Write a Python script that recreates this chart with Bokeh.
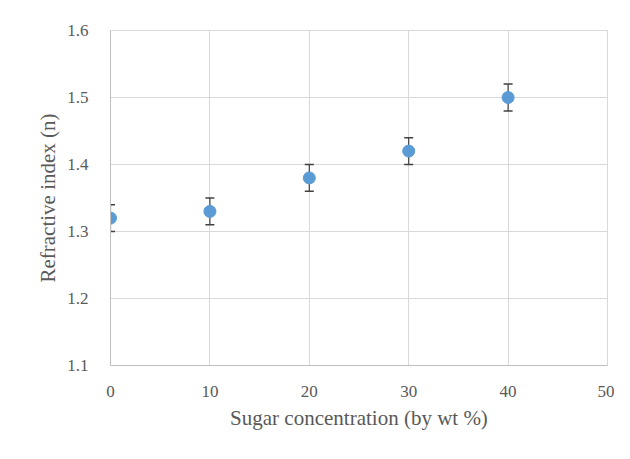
from bokeh.plotting import figure
from bokeh.models import ColumnDataSource, Whisker, TeeHead, FixedTicker, Range1d
from bokeh.embed import file_html
from bokeh.resources import INLINE

concentration = [0, 10, 20, 30, 40]
refractive_index = [1.32, 1.33, 1.38, 1.42, 1.50]
error = [0.02, 0.02, 0.02, 0.02, 0.02]
x_ticks = [0, 10, 20, 30, 40, 50]
y_ticks = [1.1, 1.2, 1.3, 1.4, 1.5, 1.6]

src = ColumnDataSource(dict(
    x=concentration,
    y=refractive_index,
    upper=[v + e for v, e in zip(refractive_index, error)],
    lower=[v - e for v, e in zip(refractive_index, error)],
))

FONT = "serif"

p = figure(frame_width=497, frame_height=335,
           min_border_left=110, min_border_right=7,
           min_border_top=30, min_border_bottom=78,
           x_range=Range1d(0, 50), y_range=Range1d(1.1, 1.6),
           output_backend="svg", toolbar_location=None,
           background_fill_color="white", border_fill_color="white")

p.outline_line_color = "#d9d9d9"
p.outline_line_width = 1

for ax in (p.xaxis[0], p.yaxis[0]):
    ax.major_tick_line_color = None
    ax.minor_tick_line_color = None
    ax.axis_line_color = "#bfbfbf"
    ax.major_label_text_font = FONT
    ax.major_label_text_font_size = "17px"
    ax.major_label_text_color = "#595959"
    ax.axis_label_text_font = FONT
    ax.axis_label_text_font_size = "21px"
    ax.axis_label_text_color = "#595959"
    ax.axis_label_text_font_style = "normal"

p.xaxis.ticker = FixedTicker(ticks=x_ticks)
p.yaxis.ticker = FixedTicker(ticks=y_ticks)
p.yaxis.major_label_overrides = {t: f"{t:.1f}" for t in y_ticks}
p.xaxis.major_label_standoff = 14
p.yaxis.major_label_standoff = 16
p.xaxis.axis_label = "Sugar concentration (by wt %)"
p.yaxis.axis_label = "Refractive index (n)"
p.xaxis.axis_label_standoff = 6
p.yaxis.axis_label_standoff = 4

p.grid.grid_line_color = "#d9d9d9"
p.grid.grid_line_width = 1

whisker = Whisker(source=src, base="x", upper="upper", lower="lower",
                  line_color="#404040", line_width=1.2,
                  upper_head=TeeHead(size=9, line_color="#404040", line_width=1.5),
                  lower_head=TeeHead(size=9, line_color="#404040", line_width=1.5))
p.add_layout(whisker)

p.scatter("x", "y", source=src, size=12, fill_color="#5B9BD5",
          line_color="#5B9BD5")

open("out.html", "w").write(file_html(p, INLINE))
